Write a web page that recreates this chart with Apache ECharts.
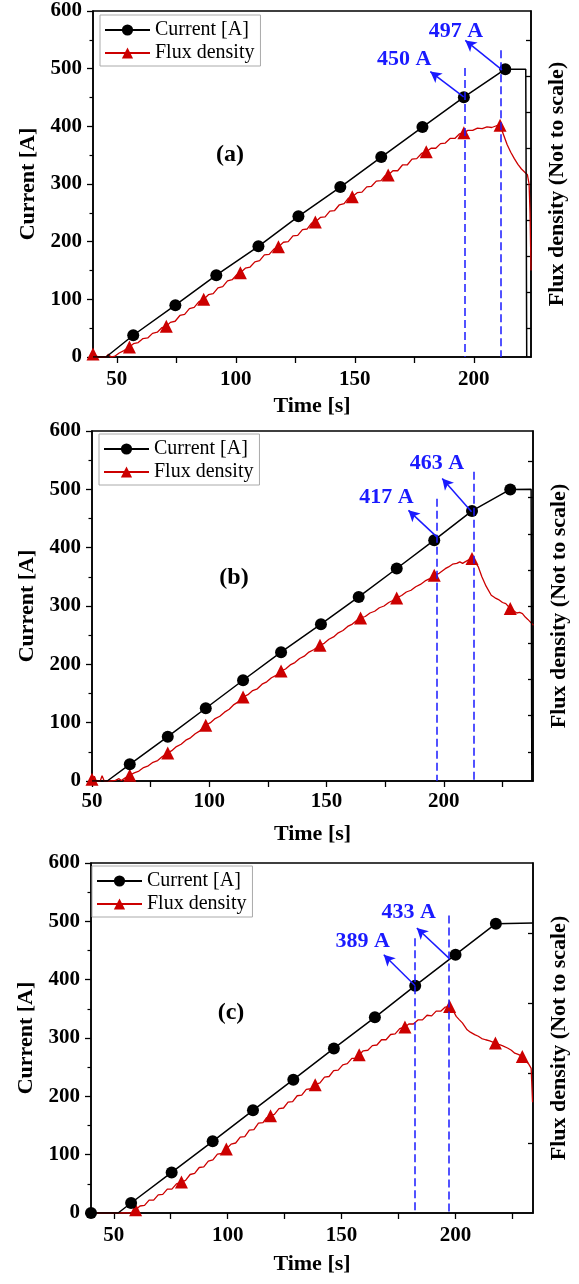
<!DOCTYPE html>
<html><head><meta charset="utf-8">
<script src="https://cdn.jsdelivr.net/npm/echarts@6/dist/echarts.min.js"></script>
<style>html,body{margin:0;padding:0;background:#fff}#c{width:579px;height:1284px}</style>
</head><body><div id="c"></div>
<script>
// ---------------- data ----------------
const xLabels = [50, 100, 150, 200];
const yLabels = [0, 100, 200, 300, 400, 500, 600];
const xTicksA = [50, 75, 100, 125, 150, 175, 200];
const xTicksB = [50, 75, 100, 125, 150, 175, 200, 225];
const xTicksC = [50, 75, 100, 125, 150, 175, 200, 225];

// Panel (a)
const curA = [[40,0],[45.5,0],[56.9,37.7],[74.6,89.8],[91.8,141.8],[109.5,192],[126.3,244],[143.9,294.6],[161.1,346.7],[178.4,398.8],[195.8,450.5],[213.2,499],[221.8,499],[222.2,0]];
const curA_marks = [56.9,74.6,91.8,109.5,126.3,143.9,161.1,178.4,195.8,213.2];
const fluxA = [[40,5],[41.5,1],[43,0],[45.5,0],[46.5,5],[47.5,0],[49,1],[51,7],[53,11],[55.3,17.4],
 [57,23],[59,25],[61,32],[63,33],[65,41],[67,43],[69,51],[70.8,53.3],[72.5,60],[74.5,62],[76.5,72],[78.5,74],
 [80.5,84],[82.5,86],[84.5,96],[86.5,100],[88.5,108],[90.5,110],[92.5,120],[94.5,122],[96.5,132],[98.5,134],
 [100.2,142],[101.9,146],[104,154],[106,156],[108,165],[110,167],[112,177],[114,178],[116,187],[117.9,191],
 [120,199],[122,200],[124,210],[126,211],[128,221],[130,222],[131.8,232],[133.4,234],[135.5,242],[137.5,243],
 [139.5,253],[141.5,254],[143.5,264],[145.5,266],[147.2,275],[148.9,278],[151,285],[153,286],[155,295],[157,296],
 [159,305],[161,306],[162.6,314],[164,315.5],[166,323],[168,323],[170,333],[172,333],[174,343],[176,344],[178,353],
 [180,356],[182,362],[184,362],[186,370],[188,371],[190,379],[192,379],[194,387],[195.8,389],[197.5,393],[199.5,393],
 [201.5,397],[203.5,396],[205.5,399],[207.5,398],[209.5,401],[211,402],[212.5,385],[214,368],[215.5,355],[217,344],
 [218.5,334],[220,326],[221.5,320],[222.5,316],[223.2,300],[223.6,250],[224,150]];
const fluxA_marks = [40,55.3,70.8,86.5,101.9,117.9,133.4,148.9,164,180,195.8,211];

// Panel (b)
const curB = [[50,0],[56.5,0],[66.1,28.6],[82.3,76],[98.5,124.7],[114.4,172.7],[130.6,220.8],[147.6,268.8],[163.7,315.6],[179.9,364.3],[195.9,412.9],[212,463],[228.3,499.8],[237.2,500],[237.5,0]];
const curB_marks = [66.1,82.3,98.5,114.4,130.6,147.6,163.7,179.9,195.9,212,228.3];
const fluxB = [[50,3],[51,8],[51.8,0],[53.5,0],[54.3,9],[55.2,0],[58,0],[60,1],[61.5,4],[62.5,1],[64,5],[66.1,9.8],
 [68,14],[70,17],[72,23],[74,26],[76,32],[78,35],[80,42],[82.3,48],[84,52],[86,59],[88,63],[90,70],[92,74],[94,81],
 [96,86],[98.5,95.5],[100.5,100],[102.5,107],[104.5,111],[106.5,118],[108.5,123],[110.5,131],[112.5,136],[114.4,144],
 [116.5,148],[118.5,155],[120.5,158],[122.5,166],[124.5,170],[126.5,177],[128.5,181],[130.6,188.7],[132.5,192],
 [134.5,199],[136.5,203],[138.5,210],[140.5,214],[142.5,221],[144.5,225],[147.2,232.8],[149,236],[151,243],[153,247],
 [155,254],[157,258],[159,265],[161,269],[162.8,275],[164.5,279.6],[166.5,282],[168.5,288],[170.5,291],[172.5,297],
 [174.5,300],[176.5,306],[178,309],[179.9,313.9],[182,318],[184,324],[186,327],[188,333],[190,337],[192,343],[194,347],
 [195.9,352.8],[198,356],[200.6,364],[202,367],[203.7,371.7],[205.5,373],[206.8,375.7],[208,373],[209.2,376],[210.8,379.7],
 [212,381.4],[213.2,376],[214.7,367],[216.2,350],[218,334],[220.2,318.5],[221.8,314],[223.3,311],[225,306],[226.4,304],
 [228.3,295.7],[229.7,292],[231.1,288],[232.3,289],[233.5,287],[234.7,281],[235.8,277],[237,272],[238.2,267]];
const fluxB_marks = [50,66.1,82.3,98.5,114.4,130.6,147.2,164.5,179.9,195.9,212,228.3];

// Panel (c)
const curC = [[40,0],[51.9,0],[57.6,17.1],[75.4,69.6],[93.4,122.8],[111.1,176],[128.8,228.5],[146.6,282.2],[164.6,335.4],[182.3,389.7],[200,442.8],[217.7,496],[218.5,497],[234,497]];
const curC_marks = [40,57.6,75.4,93.4,111.1,128.8,146.6,164.6,182.3,200,217.7];
const fluxC = [[40,0],[57.5,0],[59.6,5.7],[61.5,12],[63.5,13],[65.5,22],[67.5,22],[69.5,31],[71.5,32],[73.5,41],[75.5,41],
 [77.5,50],[79.7,53.1],[81.5,56],[83.5,66],[85.5,68],[87.5,78],[89.5,79],[91.5,89],[93.5,91],[95.5,101],[97.5,102],
 [99.4,109.7],[101.5,118],[103.5,120],[105.5,130],[107.5,131],[109.5,142],[111.5,143],[113.5,154],[115.5,155],[117,163],
 [118.8,166.8],[120.5,169],[122.5,179],[124.5,180],[126.5,190],[128.5,191],[130.5,201],[132.5,202],[134.5,212],[136.5,213],
 [138.4,220],[140.5,223],[142.5,233],[144.5,234],[146.5,244],[148.5,245],[150.5,254],[152.5,256],[154.5,265],[156,265],
 [157.7,271.4],[159.5,278],[161.5,279],[163.5,287],[165.5,288],[167.5,297],[169.5,297],[171.5,306],[173.5,307],[175.5,316],
 [177.8,318.9],[179.5,324],[181.5,324],[183.5,331],[185.5,331],[187.5,339],[189.5,338],[191.5,346],[193.5,346],[195.5,353],
 [197.4,354.2],[198.8,348],[200.3,337],[201.5,332],[203,326],[205.1,314],[206.5,310],[208.4,305.7],[210,303],[211.5,299],
 [213.2,297],[215,295],[217.5,291.4],[219,289],[220.5,287],[222.8,282.8],[224.5,279],[226,274],[227.5,272],[229.3,268.5],
 [230.9,260],[232,256],[233.2,248],[233.8,190]];
const fluxC_marks = [59.6,79.7,99.4,118.8,138.4,157.7,177.8,197.4,217.5,229.3];

// Annotations (time, current)
const dashA = [[196, 501], [211.1, 532]];
const dashB = [[197, 484], [212.6, 530]];
const dashC = [[182.3, 471], [197.1, 510]];
const arrowsA = [[[195.7, 451], [181.7, 495]], [[211.8, 498], [196.4, 549]]];
const arrowsB = [[[197, 418.5], [184.9, 464]], [[211.8, 461.4], [199.3, 518.7]]];
const arrowsC = [[[182.3, 389.7], [168.5, 442.8]], [[197.1, 437], [183, 488.6]]];
const labelsA = [['450 A', 170.7, 517], ['497 A', 192.5, 564]];
const labelsB = [['417 A', 175.5, 486], ['463 A', 197.1, 544.4]];
const labelsC = [['389 A', 159.3, 465.6], ['433 A', 179.4, 515.4]];
const panelNames = ['(a)', '(b)', '(c)'];

// ---------------- chart ----------------
const FONT = '"Liberation Serif", "Times New Roman", serif';
const BLUE = '#1a1aff';
const RED = '#cc0000';
const chart = echarts.init(document.getElementById('c'), null, {renderer: 'canvas'});

const grids = [
  {left: 93, top: 11, width: 438, height: 346},
  {left: 92, top: 431, width: 441, height: 350},
  {left: 91, top: 863, width: 442, height: 350}
];
const xRanges = [[40, 224], [50, 238], [40, 234]];
const xTicks = [xTicksA, xTicksB, xTicksC];
const rightMax = [9.6, 9.63, 5];
const rightTicks = [[0.8,1.8,2.8,3.8,4.8,5.8,6.8,7.8,8.8],[0.8,1.8,2.8,3.8,4.8,5.8,6.8,7.8,8.8],[1,2,3,4]];
const xLabelMargin = [12, 10, 12];
const xNameGap = [38, 42, 40];

const xAxes = [], yAxes = [];
grids.forEach((g, i) => {
  g.show = true; g.borderColor = '#000'; g.borderWidth = 1.5; g.backgroundColor = 'transparent';
  xAxes.push({
    type: 'value', gridIndex: i, min: xRanges[i][0], max: xRanges[i][1], position: 'bottom',
    name: 'Time [s]', nameLocation: 'middle', nameGap: xNameGap[i],
    nameTextStyle: {fontFamily: FONT, fontWeight: 'bold', fontSize: 22, color: '#000'},
    axisLine: {show: true, onZero: false, lineStyle: {color: '#000', width: 1.5}},
    axisTick: {show: true, length: 6, customValues: xTicks[i], lineStyle: {color: '#000', width: 1.3}},
    axisLabel: {show: true, customValues: xLabels, margin: xLabelMargin[i], fontFamily: FONT, fontWeight: 'bold', fontSize: 21, color: '#000'},
    splitLine: {show: false}
  });
  yAxes.push({
    type: 'value', gridIndex: i, min: 0, max: 600, interval: 100, position: 'left',
    name: 'Current [A]', nameLocation: 'middle', nameGap: 54,
    nameTextStyle: {fontFamily: FONT, fontWeight: 'bold', fontSize: 22, color: '#000'},
    axisLine: {show: true, onZero: false, lineStyle: {color: '#000', width: 1.5}},
    axisTick: {show: true, length: 6, customValues: yLabels, lineStyle: {color: '#000', width: 1.3}},
    minorTick: {show: true, splitNumber: 2, length: 3.5, lineStyle: {color: '#000', width: 1.2}},
    axisLabel: {show: true, customValues: yLabels, margin: 11, fontFamily: FONT, fontWeight: 'bold', fontSize: 21, color: '#000'},
    splitLine: {show: false}, minorSplitLine: {show: false}
  });
  yAxes.push({
    type: 'value', gridIndex: i, min: 0, max: rightMax[i], position: 'right',
    name: 'Flux density (Not to scale)', nameLocation: 'middle', nameGap: 15, nameRotate: 90,
    nameTextStyle: {fontFamily: FONT, fontWeight: 'bold', fontSize: 22, color: '#000'},
    axisLine: {show: true, onZero: false, lineStyle: {color: '#000', width: 1.5}},
    axisTick: {show: true, inside: true, length: 5, customValues: rightTicks[i], lineStyle: {color: '#000', width: 1.3}},
    axisLabel: {show: false},
    splitLine: {show: false}
  });
});

function lineData(pts, marks) {
  return pts.map(p => marks.indexOf(p[0]) >= 0 ? {value: p} : {value: p, symbol: 'none'});
}

function annotationLines(dash, arrows) {
  const d = [];
  dash.forEach(([t, top]) => {
    d.push([{coord: [t, top], symbol: 'none', lineStyle: {type: [8, 4], color: BLUE, width: 1.5}},
            {coord: [t, 0], symbol: 'none'}]);
  });
  arrows.forEach(([from, to]) => {
    d.push([{coord: from, symbol: 'none', lineStyle: {type: 'solid', color: BLUE, width: 1.5}},
            {coord: to, symbol: 'arrow', symbolSize: [9, 11]}]);
  });
  return d;
}

const series = [];
const cur = [[curA, curA_marks], [curB, curB_marks], [curC, curC_marks]];
const flux = [[fluxA, fluxA_marks], [fluxB, fluxB_marks], [fluxC, fluxC_marks]];
const dashes = [dashA, dashB, dashC];
const arrows = [arrowsA, arrowsB, arrowsC];
const labels = [labelsA, labelsB, labelsC];

for (let i = 0; i < 3; i++) {
  series.push({
    type: 'line', name: 'Flux density', xAxisIndex: i, yAxisIndex: i * 2,
    data: lineData(flux[i][0], flux[i][1]),
    symbol: 'triangle', symbolSize: 13, showAllSymbol: true,
    lineStyle: {color: RED, width: 1.3}, itemStyle: {color: RED}, z: 2,
    emphasis: {disabled: true}
  });
  series.push({
    type: 'line', name: 'Current [A]', xAxisIndex: i, yAxisIndex: i * 2,
    data: lineData(cur[i][0], cur[i][1]),
    symbol: 'circle', symbolSize: 12, showAllSymbol: true,
    lineStyle: {color: '#000', width: 1.5}, itemStyle: {color: '#000'}, z: 3,
    emphasis: {disabled: true},
    markLine: {silent: true, symbol: ['none', 'none'], label: {show: false}, emphasis: {disabled: true},
      data: annotationLines(dashes[i], arrows[i])},
    markPoint: {silent: true, symbol: 'circle', symbolSize: 1, itemStyle: {color: 'rgba(0,0,0,0)'},
      label: {show: true, position: 'inside', formatter: '{b}', color: BLUE, fontFamily: FONT, fontWeight: 'bold', fontSize: 22},
      data: labels[i].map(([txt, t, v]) => ({name: txt, coord: [t, v], value: v}))}
  });
}

const legendTops = [15, 434, 866];
const legendLefts = [100, 99, 92];
const legends = legendTops.map((top, i) => ({
  data: ['Current [A]', 'Flux density'], orient: 'vertical', left: legendLefts[i], top: top,
  itemWidth: 45, itemHeight: 14, itemGap: 3, selectedMode: false,
  padding: [5, 6, 3, 4], borderColor: '#aaa', borderWidth: 1, backgroundColor: '#fff',
  textStyle: {fontFamily: FONT, fontSize: 20, color: '#000'}
}));

const panelPos = [[230, 155], [234, 578], [231, 1013]];
const graphics = panelNames.map((n, i) => ({
  type: 'text', x: panelPos[i][0], y: panelPos[i][1], z: 10,
  style: {text: n, align: 'center', verticalAlign: 'middle', font: 'bold 24px ' + FONT, fill: '#000'}
}));

chart.setOption({
  animation: false,
  backgroundColor: '#fff',
  grid: grids, xAxis: xAxes, yAxis: yAxes, series: series, legend: legends, graphic: graphics
});
</script></body></html>
